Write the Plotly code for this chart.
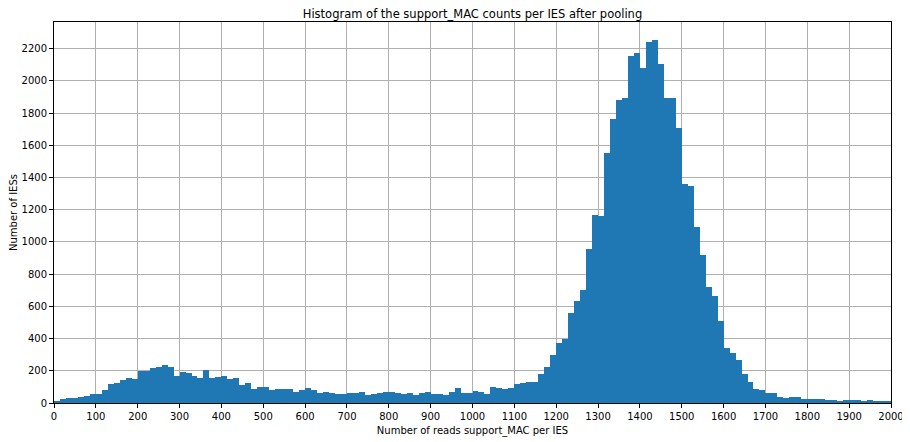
import numpy as np
import plotly.graph_objects as go

# histogram counts, 140 bins of equal width between 0 and 2000
bin_start = 0
bin_stop = 2000
n_bins = 140

counts = [
    12, 22, 30, 30, 40, 42, 55, 56, 82, 120,
    122, 142, 156, 150, 196, 198, 220, 222, 236, 224,
    165, 192, 186, 170, 158, 205, 156, 162, 168, 150,
    156, 114, 126, 90, 102, 102, 78, 84, 84, 84,
    66, 78, 96, 78, 60, 66, 64, 58, 54, 60,
    60, 66, 48, 54, 60, 66, 66, 60, 54, 60,
    48, 60, 66, 54, 58, 52, 71, 96, 64, 64,
    77, 71, 58, 102, 96, 84, 96, 121, 124, 132,
    132, 181, 225, 299, 373, 398, 558, 632, 700, 954,
    1165, 1159, 1550, 1762, 1880, 1892, 2153, 2171, 2078, 2240,
    2252, 2103, 1892, 1892, 1706, 1362, 1350, 1095, 916, 718,
    662, 507, 340, 309, 266, 179, 130, 87, 80, 64,
    60, 40, 33, 38, 38, 27, 22, 27, 26, 21,
    21, 15, 21, 21, 20, 15, 20, 15, 15, 15,
]

x_ticks = list(range(0, 2001, 100))
y_ticks = list(range(0, 2201, 200))

edges = np.linspace(bin_start, bin_stop, n_bins + 1)
width = edges[1] - edges[0]
centers = edges[:-1] + width / 2

fig = go.Figure(go.Bar(
    x=centers,
    y=counts,
    width=width,
    marker=dict(color="#1f77b4", line=dict(width=0)),
    hoverinfo="x+y",
))

axis_style = dict(
    showline=True,
    linecolor="black",
    linewidth=1,
    mirror=True,
    ticks="outside",
    ticklen=4,
    tickcolor="black",
    showgrid=True,
    gridcolor="#b0b0b0",
    gridwidth=0.8,
    zeroline=False,
    layer="above traces",
    automargin=False,
    tickfont=dict(family="DejaVu Sans", size=10, color="black"),
)

fig.update_xaxes(
    range=[0, 2000],
    tickvals=x_ticks,
    title=dict(text="Number of reads support_MAC per IES", standoff=5,
               font=dict(family="DejaVu Sans", size=10, color="black")),
    **axis_style,
)
fig.update_yaxes(
    range=[0, 2365],
    tickvals=y_ticks,
    title=dict(text="Number of IESs", standoff=8,
               font=dict(family="DejaVu Sans", size=10, color="black")),
    **axis_style,
)

# the page body has an 8px margin, so the figure is a little smaller than the window
fig.update_layout(
    width=902,
    height=434,
    margin=dict(l=46, r=19, t=14, b=39),
    paper_bgcolor="white",
    plot_bgcolor="white",
    bargap=0,
    showlegend=False,
    title=dict(
        text="Histogram of the support_MAC counts per IES after pooling",
        x=0.5, xanchor="center", xref="paper",
        y=1 - 6 / 434, yanchor="middle", yref="container",
        font=dict(family="DejaVu Sans", size=11.5, color="black"),
    ),
)

fig.write_html("out.html")
